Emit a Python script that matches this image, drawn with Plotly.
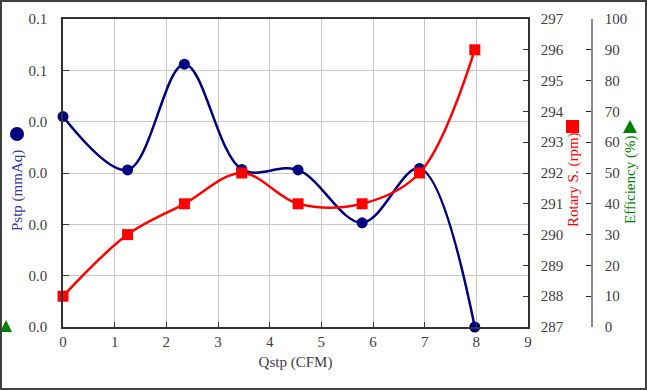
import plotly.graph_objects as go

qstp = [0, 1.25, 2.35, 3.46, 4.55, 5.79, 6.9, 7.97]
pstp = [0.0410, 0.0306, 0.0512, 0.0307, 0.0306, 0.0203, 0.0309, 0.0]
rotary = [288.0, 290.0, 291.0, 292.0, 291.0, 291.0, 292.0, 296.0]

x_ticks = list(range(0, 10))
p_tickvals = [0.0, 0.01, 0.02, 0.03, 0.04, 0.05, 0.06]
p_ticktext = ["0.0", "0.0", "0.0", "0.0", "0.0", "0.1", "0.1"]
r_ticks = list(range(287, 298))
e_ticks = list(range(0, 101, 10))

W, H = 647, 390
L, R, T, B = 63, 55, 19, 63
PW = W - L - R
PH = H - T - B
plot_right = 528
xdom = (plot_right - L) / PW

def px(x):
    return (x - L) / PW

def py(y):
    return (H - B - y) / PH

FONT = "Liberation Serif, Times New Roman, serif"
NAVY = "#000080"
RED = "#FF0000"
GREEN = "#008000"
TXT = "#404040"

fig = go.Figure()
fig.add_trace(go.Scatter(
    x=qstp, y=pstp, mode="lines+markers", name="Pstp",
    line=dict(color=NAVY, width=2.5, shape="spline", smoothing=1),
    marker=dict(symbol="circle", size=11, color=NAVY),
    yaxis="y", showlegend=False, cliponaxis=False,
))
fig.add_trace(go.Scatter(
    x=qstp, y=rotary, mode="lines+markers", name="Rotary S.",
    line=dict(color=RED, width=2.5, shape="spline", smoothing=1),
    marker=dict(symbol="square", size=11, color=RED),
    yaxis="y2", showlegend=False, cliponaxis=False,
))
fig.add_trace(go.Scatter(x=[], y=[], yaxis="y3", showlegend=False))

tickfont = dict(family=FONT, size=15, color=TXT)

fig.update_layout(
    width=W, height=H,
    margin=dict(l=L, r=R, t=T, b=B, autoexpand=False),
    paper_bgcolor="white", plot_bgcolor="white",
    font=dict(family=FONT, size=15, color=TXT),
    xaxis=dict(
        domain=[0, xdom], range=[0, 9], tickvals=x_ticks, automargin=False,
        showgrid=True, gridcolor="#c8c8c8", gridwidth=1,
        showline=True, linecolor="#333333", linewidth=1.5, mirror=True,
        ticks="inside", ticklen=5, tickcolor="#333333",
        tickfont=tickfont, zeroline=False,
        title=dict(text="Qstp (CFM)", font=dict(family=FONT, size=15, color=TXT), standoff=8),
    ),
    yaxis=dict(
        range=[0, 0.06], tickvals=p_tickvals, ticktext=p_ticktext, automargin=False,
        showgrid=True, gridcolor="#c8c8c8", gridwidth=1,
        showline=True, linecolor="#333333", linewidth=1.5,
        ticks="inside", ticklen=6, tickcolor="#333333",
        tickfont=tickfont, zeroline=False, ticklabelstandoff=11,
    ),
    yaxis2=dict(
        range=[287, 297], tickvals=r_ticks, overlaying="y", side="right", anchor="x",
        automargin=False,
        showgrid=False, showline=True, linecolor="#333333", linewidth=1.5,
        ticks="inside", ticklen=5, tickcolor="#333333",
        tickfont=tickfont, zeroline=False, ticklabelstandoff=8,
    ),
    yaxis3=dict(
        range=[0, 100], tickvals=e_ticks, overlaying="y", side="right",
        anchor="free", position=1, automargin=False,
        showgrid=False, showline=True, linecolor="#888888", linewidth=1.5,
        ticks="inside", ticklen=5, tickcolor="#222222",
        tickfont=tickfont, zeroline=False, ticklabelstandoff=9,
    ),
)

annotations = [
    dict(text="Pstp (mmAq)", x=px(17), y=py(191), textangle=-90,
         font=dict(family=FONT, size=15, color="#333399")),
    dict(text="Rotary S. (rpm)", x=px(573), y=py(180), textangle=-90,
         font=dict(family=FONT, size=15, color=RED)),
    dict(text="Efficiency (%)", x=px(630), y=py(180), textangle=-90,
         font=dict(family=FONT, size=15, color=GREEN)),
]
for a in annotations:
    a.update(xref="paper", yref="paper", showarrow=False, xanchor="center", yanchor="middle")
fig.update_layout(annotations=annotations)

shapes = [
    dict(type="circle", xref="paper", yref="paper",
         x0=px(10), x1=px(24), y0=py(141), y1=py(127),
         fillcolor=NAVY, line=dict(width=0)),
    dict(type="rect", xref="paper", yref="paper",
         x0=px(566), x1=px(579), y0=py(133), y1=py(120),
         fillcolor=RED, line=dict(width=0)),
    dict(type="path", xref="paper", yref="paper",
         path=f"M {px(623)} {py(133)} L {px(637)} {py(133)} L {px(630)} {py(120)} Z",
         fillcolor=GREEN, line=dict(width=0)),
    dict(type="path", xref="paper", yref="paper",
         path=f"M {px(0)} {py(332)} L {px(12)} {py(332)} L {px(6)} {py(320)} Z",
         fillcolor=GREEN, line=dict(width=0)),
    dict(type="rect", xref="paper", yref="paper",
         x0=px(1), x1=px(646), y0=py(389), y1=py(1),
         fillcolor="rgba(0,0,0,0)", line=dict(color="#404040", width=2)),
]
fig.update_layout(shapes=shapes)

fig.write_html(
    "out.html",
    config={"displayModeBar": False},
    post_script="document.body.style.margin='0';document.body.style.overflow='hidden';",
)
